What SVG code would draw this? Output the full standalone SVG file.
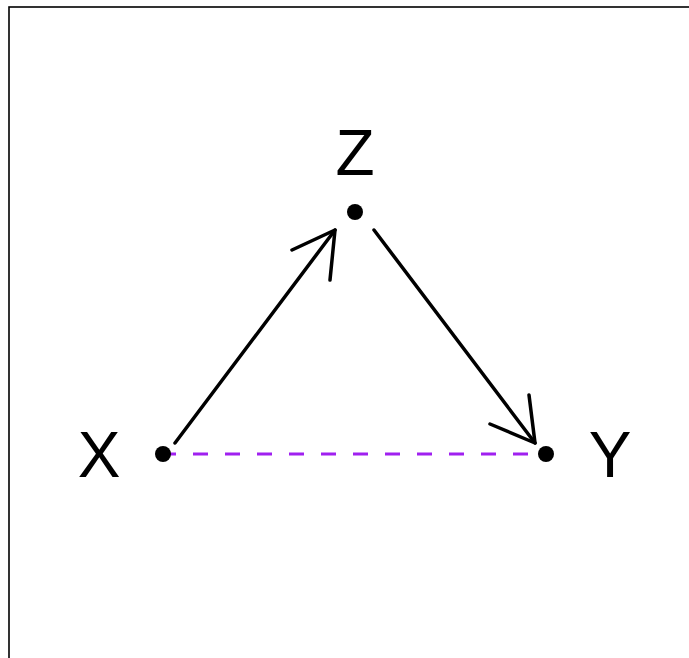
<svg xmlns="http://www.w3.org/2000/svg" width="689" height="658" viewBox="0 0 689 658">
  <style>
    .lbl { font-family: "Liberation Sans", Arial, sans-serif; font-size: 64px; fill: #000; text-anchor: middle; }
    .edge { stroke: #000; stroke-width: 3.5; fill: none; stroke-linecap: round; stroke-linejoin: round; }
    .bidir { stroke: #A020F0; stroke-width: 3; fill: none; stroke-dasharray: 15 17; }
    .dot { fill: #000; }
  </style>
  <rect x="0" y="0" width="689" height="658" fill="#fff"/>
  <rect x="9" y="7" width="700" height="700" fill="none" stroke="#000" stroke-width="1.6"/>
  <g id="connectors">
    <line class="bidir" x1="161" y1="454" x2="546" y2="454"/>
    <g id="edge-x-z">
      <line class="edge" x1="175" y1="443" x2="335" y2="230"/>
      <polyline class="edge" points="292,250 335,230 330,280"/>
    </g>
    <g id="edge-z-y">
      <line class="edge" x1="374" y1="230" x2="535" y2="443"/>
      <polyline class="edge" points="529,395 535,443 490,424"/>
    </g>
  </g>
  <g id="node-x">
    <circle class="dot" cx="163" cy="454" r="8"/>
    <text class="lbl" x="99" y="477">X</text>
  </g>
  <g id="node-z">
    <circle class="dot" cx="355" cy="212" r="8"/>
    <text class="lbl" x="355" y="175">Z</text>
  </g>
  <g id="node-y">
    <circle class="dot" cx="546" cy="454" r="8"/>
    <text class="lbl" x="610" y="477">Y</text>
  </g>
</svg>
